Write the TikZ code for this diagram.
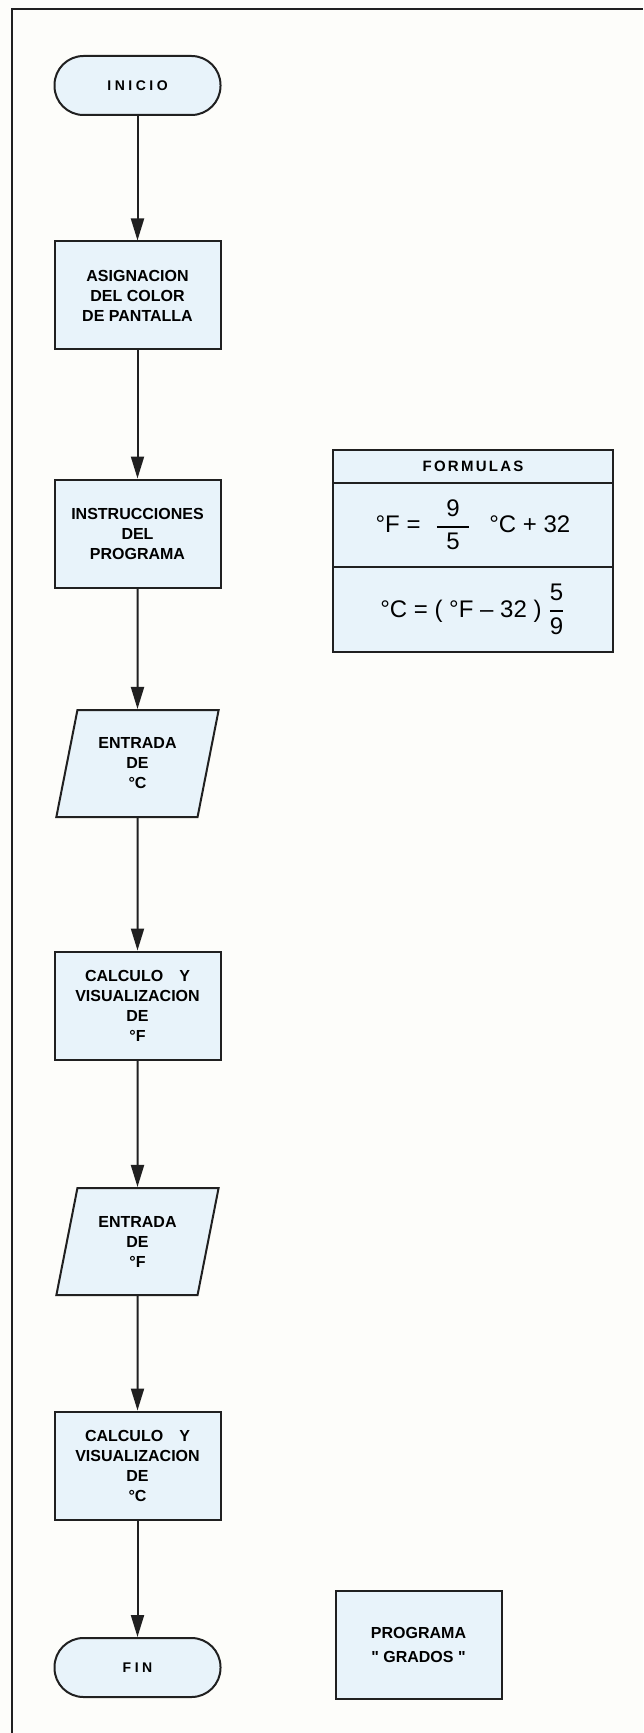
\documentclass[tikz,border=0pt]{standalone}
\usepackage{fontspec}
\setmainfont{Liberation Sans}[Ligatures=TeXOff]
\usepackage{amsmath}
\usepackage{xcolor}
\usepackage{tikz}
\usetikzlibrary{shapes.geometric, arrows.meta, positioning}
\definecolor{GRDFill}{RGB}{232, 243, 250}
\definecolor{GRDLine}{RGB}{32, 32, 32}
\definecolor{GRDPaper}{RGB}{253, 253, 250}
\tikzset{
  flowshape/.style={draw=GRDLine, fill=GRDFill, line width=1pt, align=center,
    font=\fontsize{8}{10}\selectfont\bfseries},
  procbox/.style={flowshape, rectangle, minimum width=83pt, minimum height=54pt},
  termbox/.style={flowshape, rectangle, rounded corners=14.5pt, minimum width=83pt,
    minimum height=29.5pt, font=\fontsize{7}{9}\selectfont\bfseries\addfontfeature{LetterSpace=25}},
  iobox/.style={flowshape, trapezium, trapezium stretches=true, trapezium left angle=76,
    trapezium right angle=104, minimum width=81.5pt, minimum height=53.5pt},
  tablerow/.style={draw=GRDLine, fill=GRDFill, line width=1pt, rectangle, inner sep=0pt,
    minimum width=140pt, font=\fontsize{12}{14}\selectfont},
  flowarrow/.style={GRDLine, line width=1pt, -{Triangle[length=11pt, width=6.5pt]}}
}

\begin{document}
\begin{tikzpicture}[x=0.5pt, y=-0.5pt]
    \useasboundingbox (0,0) rectangle (643,1733);
    \fill[GRDPaper] (0,0) rectangle (643,1733);
    \draw[GRDLine, line width=1.4pt] (12,1733) -- (12,9) -- (643,9);

    \node[termbox] (inicio) at (137.5,85.5) {INICIO};
    \node[procbox] (color) at (137.5,295.5) {ASIGNACION\\DEL COLOR\\DE PANTALLA};
    \node[procbox] (instr) at (137.5,533.5) {INSTRUCCIONES\\DEL\\PROGRAMA};
    \node[iobox] (entc) at (137.5,763.5) {ENTRADA\\DE\\°C};
    \node[procbox] (calcf) at (137.5,1005.5) {CALCULO\quad Y\\VISUALIZACION\\DE\\°F};
    \node[iobox] (entf) at (137.5,1241.5) {ENTRADA\\DE\\°F};
    \node[procbox] (calcc) at (137.5,1465.5) {CALCULO\quad Y\\VISUALIZACION\\DE\\°C};
    \node[termbox] (fin) at (137.5,1667.5) {FIN};

    \draw[flowarrow] (inicio.south) -- (color.north);
    \draw[flowarrow] (color.south) -- (instr.north);
    \draw[flowarrow] (instr.south) -- (entc.north);
    \draw[flowarrow] (entc.south) -- (calcf.north);
    \draw[flowarrow] (calcf.south) -- (entf.north);
    \draw[flowarrow] (entf.south) -- (calcc.north);
    \draw[flowarrow] (calcc.south) -- (fin.north);

    \node[tablerow, minimum height=16.5pt,
          font=\fontsize{7.5}{9}\selectfont\bfseries\addfontfeature{LetterSpace=15}]
          (formhead) at (473,466.5) {FORMULAS};
    \node[tablerow, minimum height=42pt] (ftof) at (473,525)
          {°F =\hspace{7pt}$\genfrac{}{}{0.9pt}{0}{\makebox[16pt]{9}}{\makebox[16pt]{5}}$\hspace{9pt}°C + 32};
    \node[tablerow, minimum height=42.5pt] (ctoc) at (473,609.5)
          {°C = ( °F – 32 )\hspace{3pt}$\genfrac{}{}{0.9pt}{0}{\mbox{5}}{\mbox{9}}$};

    \node[procbox] (grados) at (418.5,1645) {PROGRAMA\\[2pt]" GRADOS "};
\end{tikzpicture}
\end{document}
